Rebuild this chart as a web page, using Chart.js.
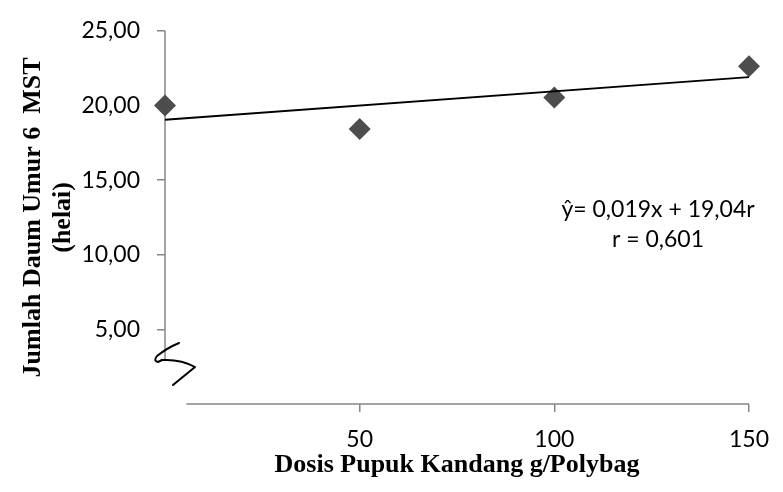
<!DOCTYPE html>
<html><head><meta charset="utf-8">
<script src="https://cdn.jsdelivr.net/npm/chart.js@4"></script>
<style>html,body{margin:0;padding:0;background:#fff;}#wrap{width:783px;height:492px;position:relative;}</style>
</head><body><div id="wrap"><canvas id="c" width="783" height="492"></canvas></div>
<script>
// ---- data ----
const doses = [0, 50, 100, 150];
const leafCounts = [20.00, 18.42, 20.53, 22.63];
const trendX = [0, 150];
const trendY = [19.04, 21.89];
const xTickValues = [50, 100, 150];
const yTickValues = [5, 10, 15, 20, 25];
const xTitle = 'Dosis Pupuk Kandang g/Polybag';
const yTitleLines = ['Jumlah Daum Umur 6  MST', '(helai)'];
const equationLines = ['ŷ= 0,019x + 19,04r', 'r = 0,601'];

// ---- style constants ----
const AXIS_GREY = '#868686';
const yAxisBreakValue = 2.9;   // y axis line stops here (broken axis)
const xAxisBreakValue = 5.5;   // x axis line starts here

const decorPlugin = {
  id: 'decor',
  beforeDatasetsDraw(chart) {
    const ctx = chart.ctx, xs = chart.scales.x, ys = chart.scales.y, a = chart.chartArea;
    ctx.save();
    ctx.strokeStyle = AXIS_GREY; ctx.lineWidth = 1.5;
    ctx.beginPath();
    ctx.moveTo(a.left, ys.getPixelForValue(25));
    ctx.lineTo(a.left, ys.getPixelForValue(yAxisBreakValue));
    ctx.moveTo(xs.getPixelForValue(xAxisBreakValue), a.bottom);
    ctx.lineTo(xs.getPixelForValue(150), a.bottom);
    ctx.stroke();
    ctx.restore();
  },
  afterDraw(chart) {
    const ctx = chart.ctx, a = chart.chartArea;
    ctx.save();
    // hand-drawn break mark
    const ox = a.left, oy = a.bottom;
    ctx.strokeStyle = '#000'; ctx.lineWidth = 2; ctx.lineJoin = 'round'; ctx.lineCap = 'round';
    ctx.beginPath();
    ctx.moveTo(ox + 14, oy - 61);
    ctx.quadraticCurveTo(ox + 2, oy - 56, ox - 8, oy - 48);
    ctx.quadraticCurveTo(ox - 12, oy - 43, ox - 7, oy - 42);
    ctx.lineTo(ox - 3, oy - 44);
    ctx.quadraticCurveTo(ox + 16, oy - 45, ox + 30, oy - 37);
    ctx.lineTo(ox + 8, oy - 19);
    ctx.stroke();

    // axis titles
    ctx.fillStyle = '#000';
    ctx.font = 'bold 26px "Liberation Serif"';
    ctx.textAlign = 'center'; ctx.textBaseline = 'middle';
    ctx.fillText(xTitle, (a.left + a.right) / 2, 465);
    const cy = (a.top + a.bottom) / 2;
    const colX = [33, 63];
    yTitleLines.forEach((t, i) => {
      ctx.save();
      ctx.translate(colX[i], cy);
      ctx.rotate(-Math.PI / 2);
      ctx.fillText(t, 0, 0);
      ctx.restore();
    });

    // regression annotation
    ctx.font = '23px Lato';
    ctx.fillText(equationLines[0], 658, 210);
    ctx.fillText(equationLines[1], 658, 240);
    ctx.restore();
  }
};

new Chart(document.getElementById('c'), {
  type: 'scatter',
  data: {
    datasets: [
      {
        type: 'line',
        data: trendX.map((x, i) => ({ x, y: trendY[i] })),
        borderColor: '#000', borderWidth: 1.8, pointRadius: 0, fill: false, clip: false
      },
      {
        data: doses.map((x, i) => ({ x, y: leafCounts[i] })),
        pointStyle: 'rectRot', pointRadius: 11, pointHoverRadius: 11,
        backgroundColor: '#4d4d4d', borderColor: '#4d4d4d', borderWidth: 0, clip: false
      }
    ]
  },
  options: {
    responsive: false, animation: false, devicePixelRatio: 1,
    layout: { padding: { top: 24, right: 23, left: 0, bottom: 0 } },
    plugins: { legend: { display: false }, tooltip: { enabled: false } },
    scales: {
      x: {
        type: 'linear', min: 0, max: 150,
        afterBuildTicks: s => { s.ticks = xTickValues.map(v => ({ value: v })); },
        afterFit: s => { s.height = 88; },
        ticks: { font: { family: 'Lato', size: 23 }, color: '#000', padding: 14, maxRotation: 0, autoSkip: false,
                 callback: v => String(v) },
        grid: { display: true, drawOnChartArea: false, drawTicks: true, tickLength: 8, color: AXIS_GREY, lineWidth: 1.5 },
        border: { display: false }
      },
      y: {
        type: 'linear', min: 0, max: 25,
        afterBuildTicks: s => { s.ticks = yTickValues.map(v => ({ value: v })); },
        afterFit: s => { s.width = 165; },
        ticks: { font: { family: 'Lato', size: 23 }, color: '#000', padding: 17,
                 callback: v => Number(v).toFixed(2).replace('.', ',') },
        grid: { display: true, drawOnChartArea: false, drawTicks: true, tickLength: 8, color: AXIS_GREY, lineWidth: 1.5 },
        border: { display: false }
      }
    }
  },
  plugins: [decorPlugin]
});
</script></body></html>
